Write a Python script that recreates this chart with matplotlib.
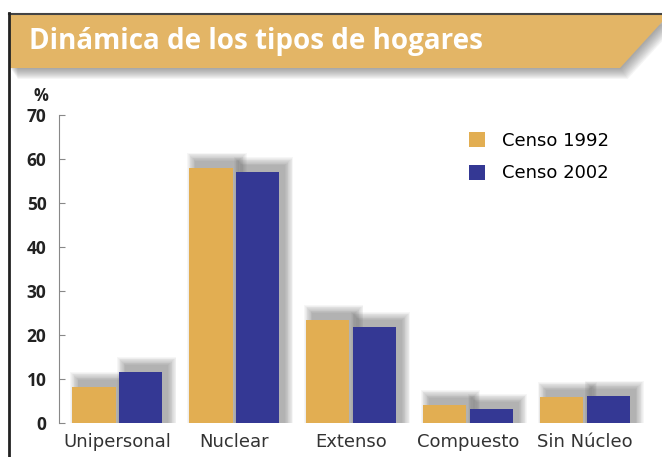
import matplotlib.pyplot as plt
from matplotlib.patches import Polygon, Rectangle, Patch

# data
categories = ['Unipersonal', 'Nuclear', 'Extenso', 'Compuesto', 'Sin Núcleo']
censo_1992 = [8.2, 58.0, 23.4, 4.1, 5.9]
censo_2002 = [11.6, 57.0, 21.8, 3.2, 6.2]
series_labels = ['Censo 1992', 'Censo 2002']
yticks = [0, 10, 20, 30, 40, 50, 60, 70]
title = 'Dinámica de los tipos de hogares'

gold = '#E2AE52'
blue = '#343894'
banner = '#E3B566'

W, H = 662, 457
fig = plt.figure(figsize=(W / 100, H / 100), dpi=100)


def fx(x):
    return x / W


def fy(y):
    return 1 - y / H


def banner_pts(dx=0, dy=0):
    pts = [(10, 14), (662, 14), (662, 22), (620, 68), (10, 68)]
    return [(fx(px + dx), fy(py + dy)) for px, py in pts]


# title banner with slanted right end and soft shadow underneath
for k in range(1, 12):
    fig.patches.append(Polygon(banner_pts(k * 0.7, k * 1.0), closed=True, transform=fig.transFigure,
                               facecolor='#555555', alpha=0.06, edgecolor='none', zorder=0))
fig.patches.append(Polygon(banner_pts(), closed=True, transform=fig.transFigure,
                           facecolor=banner, edgecolor='none', zorder=1))
fig.lines.append(plt.Line2D([fx(9), fx(662)], [fy(13.5), fy(13.5)], transform=fig.transFigure,
                            color='#444444', lw=1.5, zorder=2))
fig.lines.append(plt.Line2D([fx(9), fx(9)], [fy(13), fy(457)], transform=fig.transFigure,
                            color='#222222', lw=2, zorder=2))
fig.text(fx(29), fy(42), title, color='white', fontsize=20, fontweight='bold',
         family=['Open Sans', 'DejaVu Sans'], va='center', ha='left', zorder=3)

ax = fig.add_axes([fx(59), 34 / H, (W - 59) / W, 308 / H])
x = list(range(len(categories)))
w = 0.37
off = 0.2

# soft drop shadows behind the bars
for vals, d in ((censo_1992, -off), (censo_2002, off)):
    for i, h in enumerate(vals):
        for s in range(0, 11):
            sx = s / 117
            sy = s / 4.4
            ax.add_patch(Rectangle((i + d - w / 2 + 6 / 117 - sx * 0.8, 0), w + 1.6 * sx,
                                   h + 7 / 4.4 + sy * 0.8,
                                   facecolor='#444444', alpha=0.045, edgecolor='none', zorder=1))

ax.bar([i - off for i in x], censo_1992, width=w, color=gold, zorder=3)
ax.bar([i + off for i in x], censo_2002, width=w, color=blue, zorder=3)

ax.set_xlim(-0.5, 4.66)
ax.set_ylim(0, 70)
ax.set_yticks(yticks)
ax.set_xticks(x)
ax.set_xticklabels(categories, fontsize=13, color='#333333')
ax.tick_params(axis='x', length=0, pad=7)
ax.tick_params(axis='y', direction='in', length=4, color='#888888', pad=9)
for lab in ax.get_yticklabels():
    lab.set_fontsize(12.5)
    lab.set_fontweight('bold')
    lab.set_family(['Open Sans', 'DejaVu Sans'])
    lab.set_color('#222222')
for sp in ['top', 'right', 'bottom']:
    ax.spines[sp].set_visible(False)
ax.spines['left'].set_color('#888888')
ax.spines['left'].set_linewidth(0.8)
ax.patch.set_alpha(0)

fig.text(fx(41), fy(96), '%', fontsize=12, fontweight='bold', family=['Open Sans', 'DejaVu Sans'],
         color='#222222', ha='center', va='center')

handles = [Patch(facecolor=gold, label=series_labels[0]), Patch(facecolor=blue, label=series_labels[1])]
ax.legend(handles=handles, loc='upper left', bbox_to_anchor=(0.68, 0.945), frameon=False,
          fontsize=13, handlelength=0.9, handleheight=0.9, handletextpad=0.9,
          labelspacing=0.8, borderpad=0, borderaxespad=0)

fig.savefig('out.png', dpi=100)
